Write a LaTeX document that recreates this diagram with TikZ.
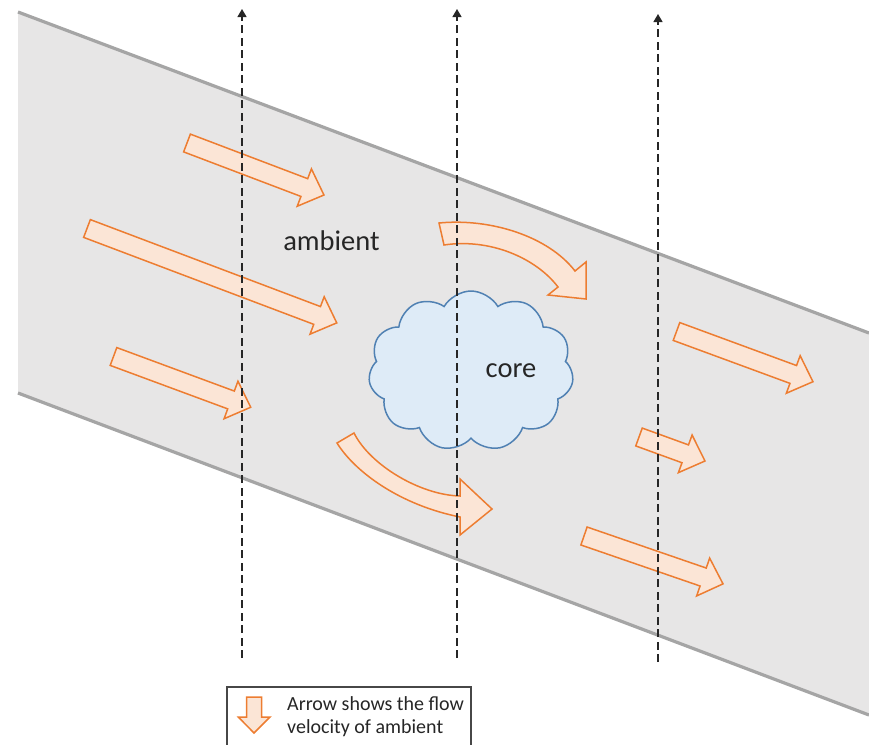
\documentclass[tikz,border=0pt]{standalone}
\usepackage{fontspec}
\setmainfont{Carlito}
\usetikzlibrary{arrows.meta,shapes.symbols}
\definecolor{band}{HTML}{E7E6E6}
\definecolor{rim}{HTML}{A5A5A5}
\definecolor{peach}{HTML}{FBE5D6}
\definecolor{amber}{HTML}{ED7D31}
\definecolor{sky}{HTML}{DEEBF7}
\definecolor{steel}{HTML}{5081B3}
\definecolor{ink}{HTML}{262626}

\begin{document}
\begin{tikzpicture}[x=1pt,y=-1pt,
  flow/.style={draw=amber,fill=peach,line width=1.5pt},
  edge/.style={draw=rim,line width=3.2pt},
  sight/.style={draw=ink,line width=1.3pt,dash pattern=on 8pt off 4.5pt,
    -{Triangle[length=8pt,width=9pt]}},
  word/.style={font=\fontsize{28.5}{34}\selectfont,text=ink,inner sep=0pt},
  keytext/.style={font=\fontsize{20}{23.4}\selectfont,text=ink,inner sep=0pt,align=left}]
 \useasboundingbox (0,0) rectangle (869,744);
 % the stream
 \fill[band] (18,12) -- (869,333) -- (869,715) -- (18,393) -- cycle;
 \draw[edge] (18,12) -- (869,333);
 \draw[edge] (18,393) -- (869,715);
 % straight flow arrows: tail centre / angle / length
 \foreach \px/\py/\ang/\len in {187/143/20.8/146.5, 87/228.5/20.7/267,
     113.5/356.5/20.3/146.3, 676.5/331.5/20.2/145.4, 639/437/20/70.2,
     584/536/19/147}
   \draw[flow,shift={(\px,\py)},rotate=-\ang]
     (0,-9.5) -- (\len-21,-9.5) -- (\len-21,-20) -- (\len,0)
     -- (\len-21,20) -- (\len-21,9.5) -- (0,9.5) -- cycle;
 % bent arrows round the core
 \draw[flow] (439,223) .. controls (490,218) and (548,236) .. (575,271)
   -- (586,262) -- (586,299) -- (548,295) -- (558,287)
   .. controls (536,258) and (490,238) .. (444,245) -- cycle;
 \draw[flow] (354,433) .. controls (370,465) and (420,495) .. (460,496)
   -- (460,479) -- (492,509) -- (460,535) -- (460,517)
   .. controls (400,505) and (355,472) .. (337,443) -- cycle;
 % core and labels
 \node[cloud,cloud puffs=11,cloud puff arc=120,aspect=1.3,
   minimum width=205pt,minimum height=160pt,
   fill=sky,draw=steel,line width=1.5pt] (blob) at (471,371) {};
 \node[word,anchor=base] (coretag) at (511,377) {core};
 \node[word,anchor=base] (ambtag) at (331.5,250) {ambient};
 % lines of sight
 \foreach \i/\x/\yb/\yt in {1/242/658/9, 2/457/658/9, 3/658/662/14} {
   \coordinate (foot\i) at (\x,\yb);
   \coordinate (head\i) at (\x,\yt);
   \draw[sight] (foot\i) -- (head\i);
 }
 % key
 \draw[draw=ink!85,line width=1.2pt] (227,687) rectangle (471,770);
 \draw[flow] (246.7,697) -- (261.7,697) -- (261.7,717) -- (270,717)
   -- (254,733) -- (238.3,717) -- (246.7,717) -- cycle;
 \node[keytext,anchor=north west] (keytag) at (287,696)
   {Arrow shows the flow\\velocity of ambient};
\end{tikzpicture}
\end{document}
